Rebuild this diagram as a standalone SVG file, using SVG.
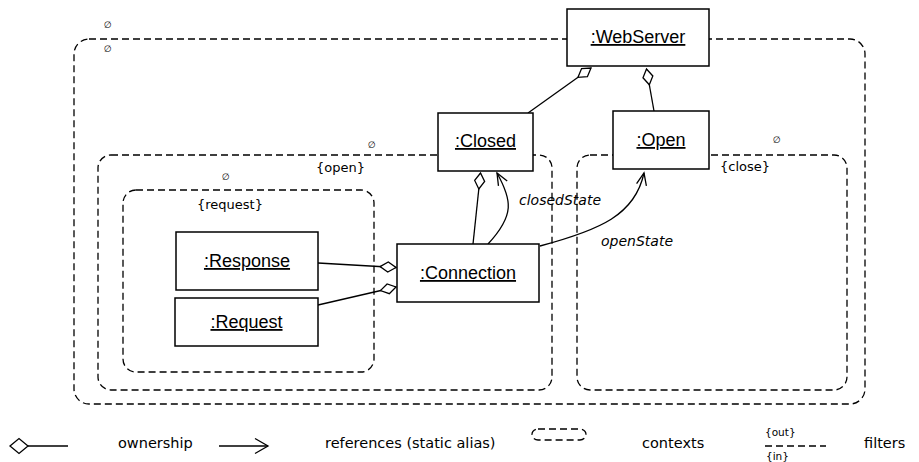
<svg xmlns="http://www.w3.org/2000/svg" width="919" height="462" viewBox="0 0 919 462">
<style>
.ctx{fill:none;stroke:#000;stroke-width:1.3;stroke-dasharray:7 4}
.box{fill:#fff;stroke:#000;stroke-width:1.5}
.nl{font-family:"Liberation Sans",Arial,sans-serif;font-size:18px;text-decoration:underline;text-anchor:middle;fill:#000}
.cl{font-family:"DejaVu Sans",sans-serif;font-size:13px;fill:#000}
.empty{font-family:"DejaVu Sans",sans-serif;font-size:9px;text-anchor:middle;fill:#000}
.rl{font-family:"DejaVu Sans",sans-serif;font-size:14px;font-style:italic;fill:#000}
.lg{font-family:"DejaVu Sans",sans-serif;font-size:14.5px;fill:#000}
.lf{font-family:"DejaVu Sans",sans-serif;font-size:10.5px;fill:#000}
.own{fill:none;stroke:#000;stroke-width:1.3;marker-end:url(#diamond)}
.ref{fill:none;stroke:#000;stroke-width:1.3;marker-end:url(#arrow)}
</style>
<defs>
<marker id="diamond" markerUnits="userSpaceOnUse" markerWidth="18" markerHeight="12" refX="16" refY="5" orient="auto" overflow="visible">
<path d="M0,5 L8,0 L16,5 L8,10 Z" fill="#fff" stroke="#000" stroke-width="1.3"/>
</marker>
<marker id="arrow" markerUnits="userSpaceOnUse" markerWidth="14" markerHeight="12" refX="12" refY="5" orient="auto" overflow="visible">
<path d="M0,0 L12,5 L0,10" fill="none" stroke="#000" stroke-width="1.3"/>
</marker>
<marker id="arrowL" markerUnits="userSpaceOnUse" markerWidth="16" markerHeight="16" refX="13" refY="7.5" orient="auto" overflow="visible">
<path d="M0,0 L13,7.5 L0,15" fill="none" stroke="#000" stroke-width="1.3"/>
</marker>
</defs>

<g id="contexts">
<g id="ctx-outer">
<rect class="ctx" x="74" y="39" width="791" height="365" rx="15"/>
<text class="empty" x="108" y="28">∅</text>
<text class="empty" x="108" y="51.5">∅</text>
</g>
<g id="ctx-open">
<rect class="ctx" x="98" y="155" width="454" height="235" rx="13"/>
<text class="empty" x="372" y="148">∅</text>
<text class="cl" x="316" y="172">{open}</text>
</g>
<g id="ctx-request">
<rect class="ctx" x="123" y="190" width="251" height="182" rx="13"/>
<text class="empty" x="226" y="180">∅</text>
<text class="cl" x="197" y="209">{request}</text>
</g>
<g id="ctx-close">
<rect class="ctx" x="577" y="155" width="270" height="235" rx="13"/>
<text class="empty" x="777" y="143">∅</text>
<text class="cl" x="720" y="171">{close}</text>
</g>
</g>

<g id="connectors">
<path class="own" d="M528,113 L591,68"/>
<path class="own" d="M654,111 L646.5,69"/>
<path class="own" d="M473,244 L480.5,173"/>
<path class="own" d="M318,263 L396,267.5"/>
<path class="own" d="M318,305 L396,287"/>
<path class="ref" d="M488,244 C515,215 512,200 497,173"/>
<path class="ref" d="M540,246 C600,230 635,215 644,173"/>
<text class="rl" x="519" y="205">closedState</text>
<text class="rl" x="601" y="246">openState</text>
</g>

<g id="WebServer">
<rect class="box" x="567" y="9" width="142" height="57"/>
<text class="nl" x="638" y="43">:WebServer</text>
</g>
<g id="Closed">
<rect class="box" x="438" y="113" width="95" height="58"/>
<text class="nl" x="485.5" y="147">:Closed</text>
</g>
<g id="Open">
<rect class="box" x="613" y="111" width="96" height="58"/>
<text class="nl" x="661" y="146">:Open</text>
</g>
<g id="Connection">
<rect class="box" x="397" y="244" width="142" height="58"/>
<text class="nl" x="468" y="279">:Connection</text>
</g>
<g id="Response">
<rect class="box" x="176" y="232" width="142" height="58"/>
<text class="nl" x="247" y="267">:Response</text>
</g>
<g id="Request">
<rect class="box" x="175" y="298" width="143" height="48"/>
<text class="nl" x="246.5" y="328">:Request</text>
</g>

<g id="legend">
<polygon points="10,446 19,438.5 28,446 19,453.5" fill="#fff" stroke="#000" stroke-width="1.3"/>
<line x1="28" y1="446" x2="68" y2="446" stroke="#000" stroke-width="1.3"/>
<text class="lg" x="118" y="448">ownership</text>
<line x1="219" y1="446" x2="268" y2="446" stroke="#000" stroke-width="1.3" marker-end="url(#arrowL)"/>
<text class="lg" x="325" y="448">references (static alias)</text>
<rect class="ctx" x="532" y="429" width="54" height="11" rx="6"/>
<text class="lg" x="642" y="448">contexts</text>
<text class="lf" x="765" y="436">{out}</text>
<line x1="765" y1="446" x2="826" y2="446" stroke="#000" stroke-width="1.3" stroke-dasharray="7 4"/>
<text class="lf" x="766" y="460">{in}</text>
<text class="lg" x="864" y="448">filters</text>
</g>
</svg>
